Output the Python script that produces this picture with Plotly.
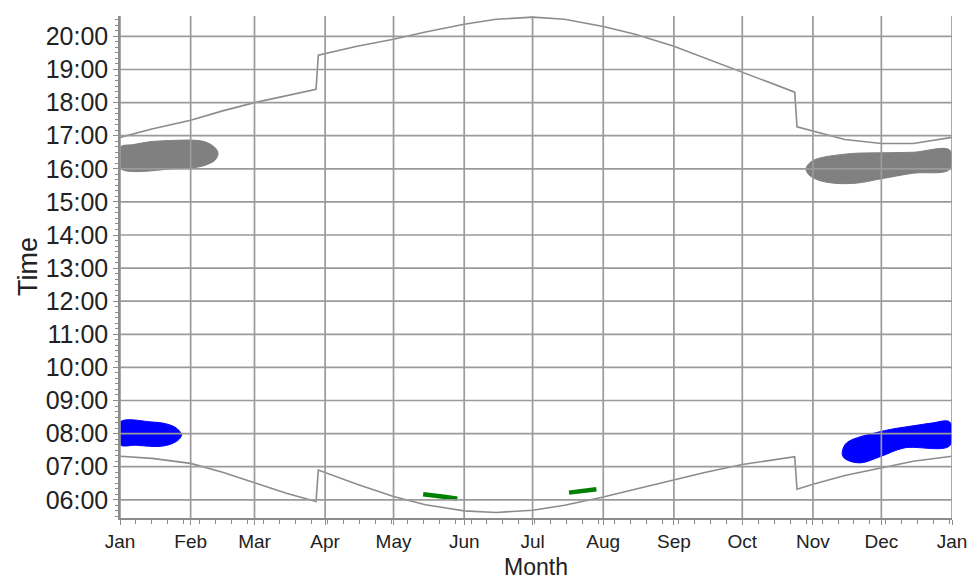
import plotly.graph_objects as go

# ---------------- data ----------------
sunset_dates = ["2009-01-01", "2009-01-15", "2009-02-01", "2009-02-15", "2009-03-01", "2009-03-15",
                "2009-03-28", "2009-03-29", "2009-04-15", "2009-05-01", "2009-05-15", "2009-06-01",
                "2009-06-15", "2009-07-01", "2009-07-15", "2009-08-01", "2009-08-15", "2009-09-01",
                "2009-09-15", "2009-10-01", "2009-10-15", "2009-10-24", "2009-10-25", "2009-11-01",
                "2009-11-15", "2009-12-01", "2009-12-15", "2010-01-01"]
sunset_times = ["16:57", "17:12", "17:28", "17:45", "18:00", "18:13",
                "18:24", "19:26", "19:42", "19:55", "20:08", "20:22",
                "20:31", "20:35", "20:31", "20:18", "20:04", "19:42",
                "19:20", "18:55", "18:32", "18:19", "17:16", "17:08",
                "16:53", "16:46", "16:46", "16:57"]

sunrise_dates = ["2009-01-01", "2009-01-15", "2009-02-01", "2009-02-15", "2009-03-01", "2009-03-15",
                 "2009-03-28", "2009-03-29", "2009-04-15", "2009-05-01", "2009-05-15", "2009-06-01",
                 "2009-06-15", "2009-07-01", "2009-07-15", "2009-08-01", "2009-08-15", "2009-09-01",
                 "2009-09-15", "2009-10-01", "2009-10-15", "2009-10-24", "2009-10-25", "2009-11-01",
                 "2009-11-15", "2009-12-01", "2009-12-15", "2010-01-01"]
sunrise_times = ["07:19", "07:15", "07:06", "06:50", "06:31", "06:12",
                 "05:57", "06:54", "06:28", "06:06", "05:51", "05:40",
                 "05:37", "05:41", "05:50", "06:05", "06:19", "06:36",
                 "06:50", "07:04", "07:13", "07:18", "06:19", "06:28",
                 "06:44", "06:58", "07:10", "07:19"]

grey_left_dates = ["2009-01-01", "2009-01-01", "2009-01-07", "2009-01-14", "2009-01-21", "2009-02-05",
                   "2009-02-09", "2009-02-12", "2009-02-13", "2009-02-12", "2009-02-09", "2009-02-04",
                   "2009-01-27"]
grey_left_times = ["16:01", "16:39", "16:44", "16:49", "16:51", "16:51",
                   "16:46", "16:37", "16:28", "16:17", "16:09", "16:03",
                   "16:01"]

grey_right_dates = ["2009-10-29", "2009-11-01", "2009-11-16", "2009-12-01", "2009-12-15", "2009-12-31",
                    "2009-12-31", "2009-12-15", "2009-12-01", "2009-11-20", "2009-11-10", "2009-11-03",
                    "2009-10-30"]
grey_right_times = ["16:01", "16:15", "16:27", "16:29", "16:30", "16:34",
                    "15:59", "15:52", "15:42", "15:34", "15:34", "15:40",
                    "15:50"]

blue_left_dates = ["2009-01-01", "2009-01-01", "2009-01-15", "2009-01-21", "2009-01-25", "2009-01-27",
                   "2009-01-28", "2009-01-27", "2009-01-24", "2009-01-19", "2009-01-14", "2009-01-08"]
blue_left_times = ["07:40", "08:21", "08:21", "08:18", "08:12", "08:05",
                   "07:58", "07:50", "07:42", "07:37", "07:37", "07:39"]

blue_right_dates = ["2009-11-14", "2009-11-16", "2009-12-01", "2009-12-18", "2009-12-23", "2009-12-31",
                    "2009-12-31", "2009-12-11", "2009-12-01", "2009-11-22", "2009-11-16", "2009-11-14"]
blue_right_times = ["07:30", "07:44", "08:04", "08:16", "08:19", "08:21",
                    "07:38", "07:34", "07:19", "07:07", "07:12", "07:20"]

green1_dates = ["2009-05-14", "2009-05-20", "2009-05-24", "2009-05-29"]
green1_times = ["06:10", "06:08", "06:05", "06:02"]
green2_dates = ["2009-07-17", "2009-07-22", "2009-07-29"]
green2_times = ["06:13", "06:16", "06:19"]

month_ticks = ["2009-%02d-01" % m for m in range(1, 13)] + ["2010-01-01"]
hour_ticks = ["%02d:00" % h for h in range(6, 21)]

x_title = "Month"
y_title = "Time"

DAY = "2000-01-01 "


def t(times):
    return [DAY + s for s in times]


fig = go.Figure()

GRID = "#9a9a9a"
LINE = "#8c8c8c"

fig.add_trace(go.Scatter(x=sunset_dates, y=t(sunset_times), mode="lines",
                         line=dict(color=LINE, width=1.6), hoverinfo="skip"))
fig.add_trace(go.Scatter(x=sunrise_dates, y=t(sunrise_times), mode="lines",
                         line=dict(color=LINE, width=1.6), hoverinfo="skip"))

for xs, ys, col in [(grey_left_dates, grey_left_times, "#808080"),
                    (grey_right_dates, grey_right_times, "#808080"),
                    (blue_left_dates, blue_left_times, "#0000ff"),
                    (blue_right_dates, blue_right_times, "#0000ff")]:
    fig.add_trace(go.Scatter(x=xs + xs[:1], y=t(ys + ys[:1]), mode="lines", fill="toself",
                             fillcolor=col, line=dict(color=col, width=1, shape="spline"),
                             hoverinfo="skip"))

for xs, ys in [(green1_dates, green1_times), (green2_dates, green2_times)]:
    fig.add_trace(go.Scatter(x=xs, y=t(ys), mode="lines",
                             line=dict(color="#008000", width=4.5), hoverinfo="skip"))

# gridlines drawn above the filled regions
shapes = []
for m in month_ticks:
    shapes.append(dict(type="line", xref="x", yref="paper", x0=m, x1=m, y0=0, y1=1,
                       line=dict(color=GRID, width=1.7), layer="above"))
for h in hour_ticks:
    shapes.append(dict(type="line", xref="paper", yref="y", x0=0, x1=1, y0=DAY + h, y1=DAY + h,
                       line=dict(color=GRID, width=1.7), layer="above"))

fig.update_layout(
    width=972, height=580,
    margin=dict(l=120, r=20, t=16, b=62),
    paper_bgcolor="white", plot_bgcolor="white",
    showlegend=False,
    shapes=shapes,
    font=dict(family="Liberation Sans, Arial, sans-serif", color="#222222"),
    annotations=[
        dict(text=x_title, xref="paper", yref="paper", x=0.5, y=0, yshift=-49,
             xanchor="center", yanchor="middle", showarrow=False, font=dict(size=23)),
        dict(text=y_title, xref="paper", yref="paper", x=0, y=0.5, xshift=-92,
             xanchor="center", yanchor="middle", textangle=-90, showarrow=False,
             font=dict(size=27)),
    ],
)

fig.update_xaxes(
    type="date", range=["2009-01-01", "2010-01-01"],
    tickvals=month_ticks, tickformat="%b",
    showgrid=False, zeroline=False, automargin=False,
    showline=True, linecolor=LINE, linewidth=1.5,
    ticks="outside", ticklen=5, tickcolor=LINE, tickwidth=1.3,
    tickfont=dict(size=19),
    minor=dict(dtick=7 * 86400000, tick0="2009-01-01", ticks="outside", ticklen=4,
               tickcolor=LINE, showgrid=False),
)
fig.update_yaxes(
    type="date", range=[DAY + "05:27", DAY + "20:37"],
    tickvals=t(hour_ticks), tickformat="%H:%M",
    showgrid=False, zeroline=False, automargin=False,
    showline=True, linecolor=LINE, linewidth=1.5,
    ticks="outside", ticklen=5, tickcolor=LINE, tickwidth=1.3,
    tickfont=dict(size=25),
    minor=dict(dtick=600000, tick0=DAY + "06:00", ticks="outside", ticklen=3,
               tickcolor=LINE, showgrid=False),
)

fig.write_html("out.html", config={"displayModeBar": False},
               post_script="document.body.style.margin='0';")
